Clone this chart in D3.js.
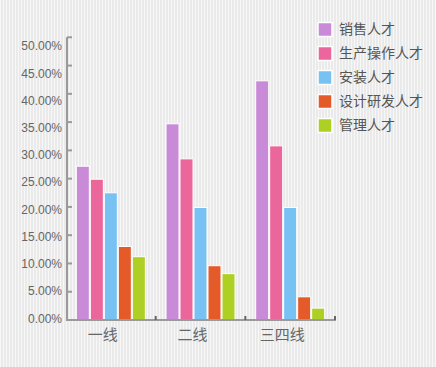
<!DOCTYPE html>
<html>
<head>
<meta charset="utf-8">
<script src="https://cdn.jsdelivr.net/npm/d3@7"></script>
<style>
  html, body { margin: 0; padding: 0; background: #eeeeee; }
  svg { display: block; }
  text { font-family: "Liberation Sans", Arial, sans-serif; }
  .cjk { font-family: "Noto Sans CJK SC", sans-serif; }
</style>
</head>
<body>
<svg id="chart"></svg>
<script>
const categories = ['一线', '二线', '三四线'];
const seriesNames = ['销售人才', '生产操作人才', '安装人才', '设计研发人才', '管理人才'];
const colors = ['#c98bd8', '#eb679b', '#77c2f2', '#e45a29', '#aed024'];
// percent per series, one value for each category
const values = [
  [27.2, 34.7, 42.3],
  [24.9, 28.5, 30.8],
  [22.5, 19.9, 19.9],
  [13.0, 9.6, 4.1],
  [11.2, 8.2, 2.1]
];
const yTicks = [0, 5, 10, 15, 20, 25, 30, 35, 40, 45, 50];

const width = 436;
const height = 367;
const svg = d3.select('#chart')
  .attr('width', width)
  .attr('height', height);

// striped backdrop
const defs = svg.append('defs');
const pat = defs.append('pattern')
  .attr('id', 'stripes')
  .attr('patternUnits', 'userSpaceOnUse')
  .attr('width', 3)
  .attr('height', 3);
pat.append('rect').attr('width', 3).attr('height', 3).attr('fill', '#eaeaea');
pat.append('rect').attr('width', 1).attr('height', 3).attr('fill', '#f7f7f7');
svg.append('rect')
  .attr('width', width)
  .attr('height', height)
  .attr('fill', 'url(#stripes)');

const axisX = 67;
const axisEnd = 335;
const y = d3.scaleLinear().domain([0, 50]).range([320, 37.3]);
// the tick labels drift from the ticks in the original, so they get their own scale
const yLabel = d3.scaleLinear().domain([0, 50]).range([318.3, 46.2]);
const x = d3.scaleBand().domain(categories).range([66, axisEnd]);
const xInner = d3.scaleBand().domain(d3.range(seriesNames.length))
  .range([0, 70]);

// bars, each with a thin white seam like the original
const groups = svg.append('g').selectAll('g')
  .data(categories)
  .join('g')
  .attr('transform', d => `translate(${x(d) + x.bandwidth() / 2 - 35},0)`);

groups.selectAll('rect')
  .data((c, ci) => values.map((s, si) => ({ si, v: s[ci] })))
  .join('rect')
  .attr('x', d => xInner(d.si) + 0.5)
  .attr('y', d => y(d.v))
  .attr('width', xInner.bandwidth() - 1)
  .attr('height', d => y(0) - y(d.v))
  .attr('fill', d => colors[d.si])
  .attr('stroke', '#fff')
  .attr('stroke-width', 1);

// y axis
const yAxis = svg.append('g');
yAxis.append('line')
  .attr('x1', axisX).attr('x2', axisX)
  .attr('y1', y(50)).attr('y2', y(0) + 1)
  .attr('stroke', '#9a9a9a').attr('stroke-width', 2);
yAxis.selectAll('.tick')
  .data(yTicks.filter(t => t > 0))
  .join('line')
  .attr('x1', axisX).attr('x2', axisX + 5)
  .attr('y1', d => y(d)).attr('y2', d => y(d))
  .attr('stroke', '#9a9a9a').attr('stroke-width', 2);
yAxis.selectAll('text')
  .data(yTicks)
  .join('text')
  .attr('x', 62)
  .attr('y', d => yLabel(d))
  .attr('dy', '0.35em')
  .attr('text-anchor', 'end')
  .attr('font-size', 12)
  .attr('fill', '#666')
  .text(d => d3.format('.2f')(d) + '%');

// x axis
const xAxis = svg.append('g');
xAxis.append('line')
  .attr('x1', axisX - 1).attr('x2', axisEnd + 1)
  .attr('y1', y(0)).attr('y2', y(0))
  .attr('stroke', '#9a9a9a').attr('stroke-width', 2);
xAxis.selectAll('.xtick')
  .data(categories)
  .join('line')
  .attr('x1', d => x(d) + x.bandwidth()).attr('x2', d => x(d) + x.bandwidth())
  .attr('y1', y(0) - 4).attr('y2', y(0))
  .attr('stroke', '#666').attr('stroke-width', 2);
xAxis.selectAll('text')
  .data(categories)
  .join('text')
  .attr('class', 'cjk')
  .attr('x', d => x(d) + x.bandwidth() / 2 - 8)
  .attr('y', 335)
  .attr('dy', '0.35em')
  .attr('text-anchor', 'middle')
  .attr('font-size', 15)
  .attr('fill', '#666')
  .text(d => d);

// legend
const legend = svg.append('g').selectAll('g')
  .data(seriesNames)
  .join('g')
  .attr('transform', (d, i) => `translate(318,${29.5 + i * 24})`);
legend.append('rect')
  .attr('x', 0).attr('y', -7)
  .attr('width', 14).attr('height', 14)
  .attr('fill', (d, i) => colors[i])
  .attr('stroke', '#fff').attr('stroke-width', 1.5);
legend.append('text')
  .attr('class', 'cjk')
  .attr('x', 21)
  .attr('dy', '0.35em')
  .attr('font-size', 14)
  .attr('fill', '#555')
  .text(d => d);
</script>
</body>
</html>
